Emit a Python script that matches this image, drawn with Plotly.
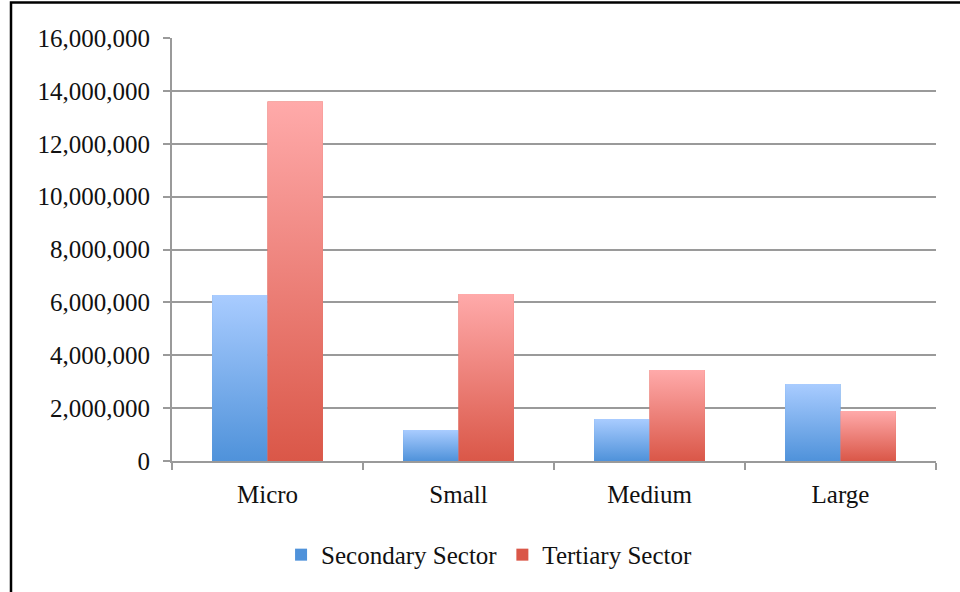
import plotly.graph_objects as go

categories = ["Micro", "Small", "Medium", "Large"]
secondary = [6280000, 1170000, 1590000, 2910000]
tertiary = [13600000, 6320000, 3440000, 1890000]
series_names = ["Secondary Sector", "Tertiary Sector"]
y_ticks = [0, 2000000, 4000000, 6000000, 8000000, 10000000, 12000000, 14000000, 16000000]

BLUE_TOP, BLUE_BOT = "#a9ccff", "#4f92da"
RED_TOP, RED_BOT = "#ffaaaa", "#da5748"
FONT = "Liberation Serif"
FS = 25

bargap = 0.42
bw = (1 - bargap) / 2
xs = list(range(len(categories)))

fig = go.Figure()

series = [(series_names[0], secondary, BLUE_TOP, BLUE_BOT, -bw),
          (series_names[1], tertiary, RED_TOP, RED_BOT, 0.0)]

# real bar traces (data + legend)
for name, vals, top, bot, off in series:
    fig.add_trace(go.Bar(
        x=xs, y=vals, name=name, width=bw, offset=off,
        marker=dict(color=bot, line=dict(width=0)),
        showlegend=True,
    ))

# gradient overlays drawn over each bar, built from the same data
for name, vals, top, bot, off in series:
    for xi, v in zip(xs, vals):
        x0 = xi + off
        x1 = x0 + bw
        fig.add_trace(go.Scatter(
            x=[x0, x1, x1, x0, x0], y=[0, 0, v, v, 0],
            mode="lines", fill="toself", line=dict(width=0),
            fillgradient=dict(type="vertical",
                              colorscale=[[0, bot], [1, top]]),
            showlegend=False, hoverinfo="skip",
        ))

fig.update_layout(
    width=960, height=592,
    margin=dict(l=172, r=24, t=38, b=131),
    paper_bgcolor="white", plot_bgcolor="white",
    barmode="overlay",
    font=dict(family=FONT, size=FS, color="#111111"),
    legend=dict(orientation="h", x=0.415, xanchor="center", y=-0.222,
                yanchor="middle", font=dict(family=FONT, size=FS),
                itemwidth=30, tracegroupgap=0,
                traceorder="normal"),
    showlegend=True,
)

fig.update_xaxes(
    range=[-0.5, len(categories) - 0.5],
    tickmode="array", tickvals=xs, ticktext=categories,
    ticks="", showgrid=False, zeroline=False,
    showline=True, linecolor="#9a9a9a", linewidth=2,
    tickfont=dict(family=FONT, size=FS, color="#111111"),
    minor=dict(tickmode="array",
               tickvals=[i - 0.5 for i in range(len(categories) + 1)],
               ticks="outside", ticklen=7, tickcolor="#9a9a9a",
               tickwidth=2, showgrid=False),
    ticklabelstandoff=10,
)
fig.update_yaxes(
    range=[0, 16000000], tickmode="array", tickvals=y_ticks,
    tickformat=",d", ticks="outside", ticklen=7, tickcolor="#9a9a9a",
    tickwidth=2, showgrid=True, gridcolor="#9a9a9a", gridwidth=2,
    zeroline=False, showline=True, linecolor="#9a9a9a", linewidth=2,
    tickfont=dict(family=FONT, size=FS, color="#111111"),
    ticklabelstandoff=8,
)

# outer frame (left and top edges visible, as in the cropped original)
pw, ph = 960 - 172 - 24, 592 - 38 - 131
fig.add_shape(type="rect", xref="paper", yref="paper",
              x0=(11 - 172) / pw, x1=(975 - 172) / pw,
              y0=-(610 - 461) / ph, y1=1 + (38 - 2.5) / ph,
              line=dict(color="black", width=2.5), layer="below")

fig.write_html("out.html", config={"displayModeBar": False},
               post_script="document.body.style.margin='0';document.body.style.overflow='hidden';")
